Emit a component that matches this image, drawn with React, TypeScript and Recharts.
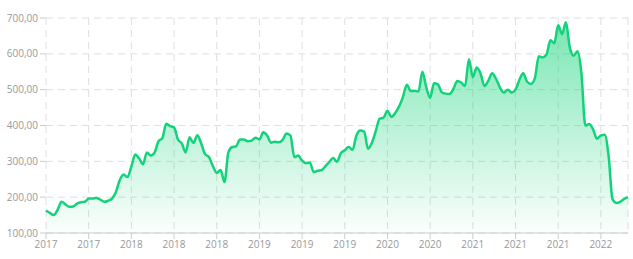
import { Area, AreaChart, CartesianGrid, XAxis, YAxis } from 'recharts';

// year labels under every 11th point
const tickYears = [
    '2017', '2017', '2018', '2018', '2018', '2019', '2019',
    '2019', '2020', '2020', '2021', '2021', '2021', '2022',
];

const yTicks = [100, 200, 300, 400, 500, 600, 700];

const prices = [
    163, 156, 150, 165, 187, 180, 173, 174, 182, 186,
    187, 196, 196, 198, 193, 187, 190, 196, 214, 247,
    263, 256, 285, 319, 308, 292, 325, 316, 325, 356,
    365, 405, 398, 395, 361, 350, 325, 367, 351, 373,
    350, 320, 312, 287, 268, 276, 242, 325, 340, 342,
    361, 361, 356, 358, 366, 361, 381, 372, 352, 355,
    353, 360, 378, 372, 312, 316, 302, 295, 297, 270,
    274, 275, 286, 298, 309, 299, 323, 331, 340, 332,
    372, 386, 383, 335, 352, 385, 419, 422, 441, 424,
    435, 453, 480, 514, 496, 497, 495, 550, 507, 477,
    518, 515, 493, 489, 488, 502, 524, 520, 510, 585,
    535, 562, 545, 510, 525, 546, 530, 506, 492, 500,
    492, 500, 527, 546, 522, 516, 532, 593, 590, 598,
    638, 629, 680, 655, 688, 618, 595, 607, 545, 400,
    404, 389, 363, 372, 374, 315, 195, 184, 187, 195,
    200,
];

const STEP = 11;

export default function App() {
    const data = prices.map((price, i) => ({ i, price }));
    const xTicks = tickYears.map((_, k) => k * STEP);

    const formatPrice = (value: number) => value.toFixed(2).replace('.', ',');

    return (
        <div style={{ position: 'absolute', left: 0, top: 0, fontFamily: '"Open Sans", sans-serif' }}>
            <AreaChart
                width={633}
                height={259}
                data={data}
                margin={{ top: 18, right: 5, left: 0, bottom: 0 }}
            >
                <defs>
                    <linearGradient id="fillGreen" x1="0" y1="0" x2="0" y2="1">
                        <stop offset="0%" stopColor="#16d47b" stopOpacity={0.95} />
                        <stop offset="100%" stopColor="#16d47b" stopOpacity={0.03} />
                    </linearGradient>
                </defs>
                <CartesianGrid stroke="#dedede" strokeDasharray="7 5" />
                <XAxis
                    dataKey="i"
                    type="number"
                    domain={[0, prices.length - 1]}
                    ticks={xTicks}
                    tickFormatter={(v: number) => tickYears[Math.round(v / STEP)]}
                    height={26}
                    stroke="#cccccc"
                    tick={{ fill: '#999999', fontSize: 10 }}
                />
                <YAxis
                    domain={[100, 700]}
                    ticks={yTicks}
                    tickFormatter={formatPrice}
                    width={46}
                    axisLine={false}
                    stroke="#cccccc"
                    tick={{ fill: '#999999', fontSize: 10 }}
                />
                <Area
                    type="monotone"
                    dataKey="price"
                    stroke="#12d27a"
                    strokeWidth={2.5}
                    fill="url(#fillGreen)"
                    baseValue={100}
                    isAnimationActive={false}
                    dot={false}
                    activeDot={false}
                />
            </AreaChart>
        </div>
    );
}
